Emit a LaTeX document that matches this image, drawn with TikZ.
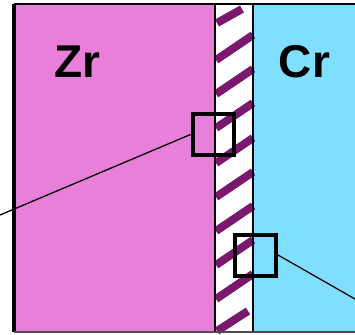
\documentclass[tikz,border=0pt]{standalone}
\usepackage{fontspec}
\setmainfont{Liberation Sans}
\usepackage{xcolor}
\definecolor{zrpink}{HTML}{E880DA}
\definecolor{crblue}{HTML}{80DEFF}
\definecolor{hatchpurple}{HTML}{7A1870}

\begin{document}
\begin{tikzpicture}[x=1pt,y=-1pt]
        % 스타일 정의
        \tikzset{probe/.style={draw, rectangle, line width=4pt, minimum size=41pt, inner sep=0pt}}
        \tikzset{metal/.style={font=\fontsize{46}{50}\selectfont\bfseries, inner sep=0pt}}
        \tikzset{hatch/.style={hatchpurple, line width=8pt}}
        \useasboundingbox (0,0) rectangle (355,334);

        % 1. 바탕색 칠하기
        \fill[zrpink] (14,4) rectangle (215,332);
        \fill[white] (215,4) rectangle (253,332);
        \fill[crblue] (253,4) rectangle (355,332);

        % 2. 경계층 빗금
        \draw[hatch] (217,23) -- (242,9);
        \foreach \y in {60,94,128,163,197,231,265,299}
            \draw[hatch] (216,\y) -- (253,\y-25);
        \draw[hatch] (217,331) -- (248,311);

        % 3. 테두리
        \draw[line width=1.5pt] (14,4) -- (355,4);
        \draw[line width=4pt] (14,4) -- (14,332);
        \draw[line width=1.5pt] (215,4) -- (215,332);
        \draw[line width=1.5pt] (253,4) -- (253,332);
        \draw[line width=1.5pt, black!70] (14,332) -- (355,332);

        % 4. 확대 영역과 선
        \node[probe] (zrprobe) at (213,134.5) {};
        \node[probe] (crprobe) at (255.5,255) {};
        \coordinate (zrend) at (0,215);
        \coordinate (crend) at (355,299);
        \draw[line width=1.3pt] (zrprobe.west) -- (zrend);
        \draw[line width=1.3pt] (crprobe.east) -- (crend);

        % 5. 원소 이름
        \node[metal] (zr) at (77.5,61.5) {Zr};
        \node[metal] (cr) at (304.5,61.5) {Cr};
    \end{tikzpicture}
\end{document}
